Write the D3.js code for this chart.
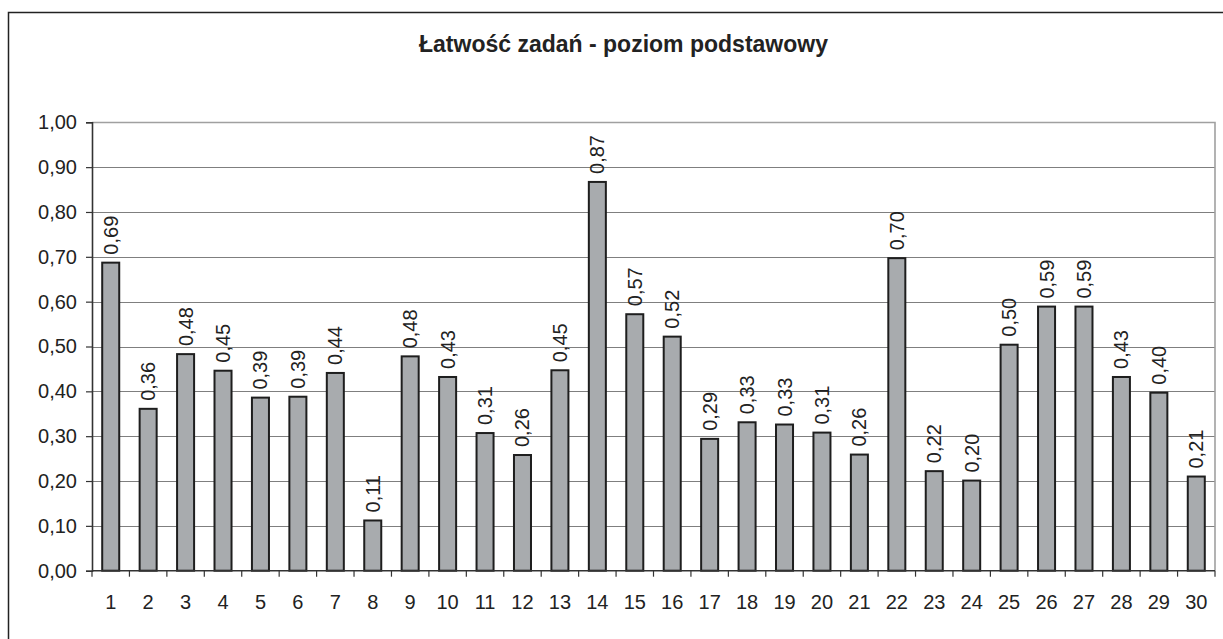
<!DOCTYPE html>
<html><head><meta charset="utf-8">
<script src="https://cdn.jsdelivr.net/npm/d3@7"></script>
<style>
html,body{margin:0;padding:0;background:#fff;}
svg{display:block;font-family:"Liberation Sans",Arial,sans-serif;}
</style></head>
<body>
<svg id="chart" width="1223" height="639"></svg>
<script>
const title = "Łatwość zadań - poziom podstawowy";
const categories = ["1","2","3","4","5","6","7","8","9","10","11","12","13","14","15","16","17","18","19","20","21","22","23","24","25","26","27","28","29","30"];
const values = [0.687,0.361,0.483,0.446,0.386,0.388,0.441,0.112,0.478,0.432,0.307,0.258,0.447,0.867,0.572,0.522,0.294,0.331,0.326,0.308,0.259,0.697,0.222,0.201,0.504,0.589,0.589,0.432,0.397,0.210];
const yTicks = [0,0.1,0.2,0.3,0.4,0.5,0.6,0.7,0.8,0.9,1.0];

const svg = d3.select("#chart");
const fmt = v => v.toFixed(2).replace(".", ",");

// outer frame (cropped on right/bottom)
svg.append("rect").attr("x",8.5).attr("y",12.5).attr("width",1240).attr("height",650)
  .attr("fill","none").attr("stroke","#222").attr("stroke-width",1.5);

const L=92, R=1215, T=122.3, B=570.7;
const x = d3.scaleBand().domain(categories).range([L,R]).paddingInner(1.2/2.2).paddingOuter(0.6/2.2);
const xb = d3.scaleBand().domain(categories).range([L,R]);
const y = d3.scaleLinear().domain([0,1]).range([B,T]);

// gridlines
svg.append("g").selectAll("line").data(yTicks.filter(d=>d>0 && d<1)).join("line")
  .attr("x1",L).attr("x2",R).attr("y1",d=>Math.round(y(d))+0.5).attr("y2",d=>Math.round(y(d))+0.5)
  .attr("stroke","#7f7f7f").attr("stroke-width",1.2);

// plot border top/right
svg.append("path").attr("d",`M${L},${Math.round(T)+0.5}H${R}V${B}`)
  .attr("fill","none").attr("stroke","#a0a0a0").attr("stroke-width",1.6);

// bars
svg.append("g").selectAll("rect").data(values).join("rect")
  .attr("x",(d,i)=>x(categories[i]))
  .attr("width",x.bandwidth())
  .attr("y",d=>y(d))
  .attr("height",d=>B-y(d))
  .attr("fill","#a8abae").attr("stroke","#1e1e1e").attr("stroke-width",2);

// value labels
svg.append("g").selectAll("text").data(values).join("text")
  .attr("transform",(d,i)=>`translate(${x(categories[i])+x.bandwidth()/2+7},${y(d)-8}) rotate(-90)`)
  .attr("text-anchor","start").attr("font-size",20).attr("fill","#222")
  .text(d=>fmt(d));

// y axis
const yAxis = svg.append("g").attr("transform",`translate(${L},0)`)
  .call(d3.axisLeft(y).tickValues(yTicks).tickFormat(fmt).tickSize(6).tickPadding(9));
yAxis.select(".domain").attr("stroke","#333").attr("stroke-width",1.6);
yAxis.selectAll(".tick line").attr("stroke","#333").attr("stroke-width",1.2);
yAxis.selectAll(".tick text").attr("font-size",20).attr("fill","#222").attr("font-family","Liberation Sans, Arial, sans-serif");

// x axis
const xAxis = svg.append("g").attr("transform",`translate(0,${B})`)
  .call(d3.axisBottom(xb).tickSize(0).tickPadding(24));
xAxis.select(".domain").remove();
xAxis.selectAll(".tick text").attr("font-size",20).attr("fill","#222").attr("font-family","Liberation Sans, Arial, sans-serif");
svg.append("line").attr("x1",L).attr("x2",R).attr("y1",B).attr("y2",B).attr("stroke","#333").attr("stroke-width",1.6);
svg.append("g").selectAll("line").data(d3.range(categories.length+1)).join("line")
  .attr("x1",i=>L+i*xb.step()).attr("x2",i=>L+i*xb.step())
  .attr("y1",B).attr("y2",B+6).attr("stroke","#333").attr("stroke-width",1.2);

// title
svg.append("text").attr("x",623.5).attr("y",52).attr("text-anchor","middle")
  .attr("font-size",23).attr("font-weight","bold").attr("fill","#222").text(title);
</script>
</body></html>
